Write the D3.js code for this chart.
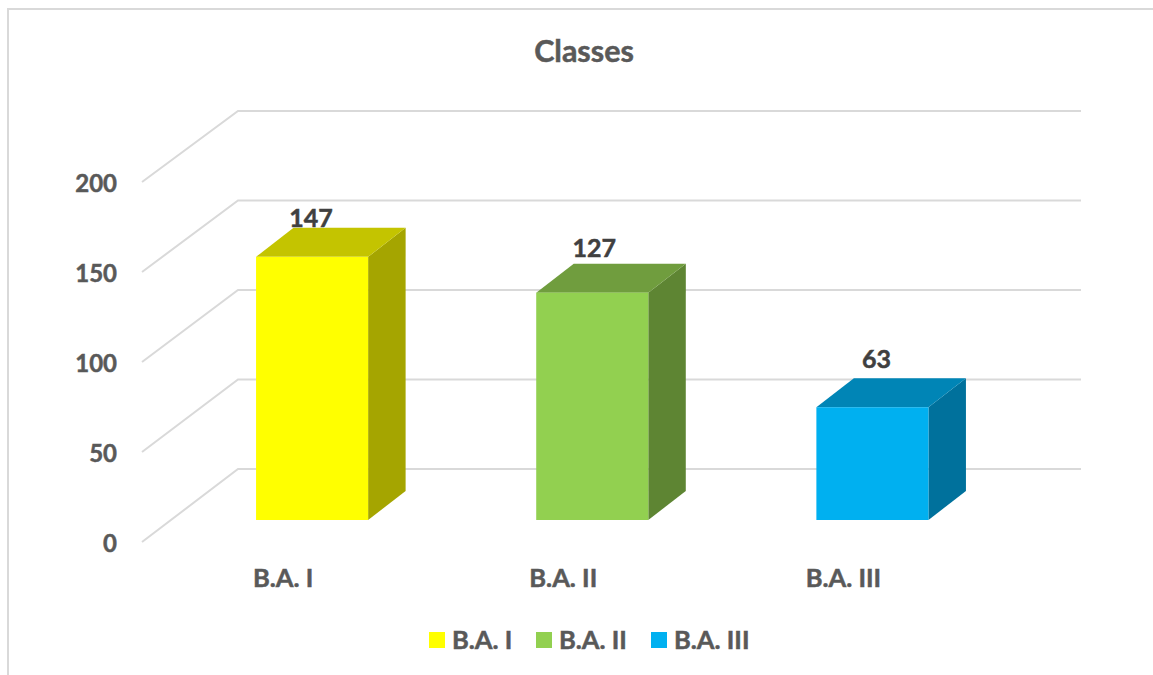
<!DOCTYPE html>
<html>
<head>
<meta charset="utf-8">
<script src="https://cdn.jsdelivr.net/npm/d3@7"></script>
<style>
  html, body { margin: 0; padding: 0; background: #fff; }
  svg { display: block; }
  text { font-family: Lato, "Open Sans", sans-serif; font-weight: 700; stroke-width: 0.5px; }
</style>
</head>
<body>
<svg id="chart" width="1153" height="675"></svg>
<script>
const chartTitle = 'Classes';
const categories = ['B.A. I', 'B.A. II', 'B.A. III'];
const values = [147, 127, 63];
const yTicks = [0, 50, 100, 150, 200];
const frontColors = ['#ffff00', '#92d050', '#00b0f0'];
const topColors = ['#c4c400', '#709d3e', '#0085b6'];
const sideColors = ['#a5a500', '#5e8533', '#00719c'];

const svg = d3.select('#chart');

// chart frame, only left and top edges show in the crop
svg.append('path')
  .attr('d', 'M8,675V9H1153')
  .attr('fill', 'none')
  .attr('stroke', '#d9d9d9')
  .attr('stroke-width', 2);

// floor depth: wall runs from the axis corner to the back plane
const wallDx = 96;
const wallDy = -73;
// bar depth
const depthDx = 37.5;
const depthDy = -29;

const yFront = d3.scaleLinear().domain([0, 200]).range([542, 182]);
const yBack = yFront.copy().range([469, 111]);
const yBar = d3.scaleLinear().domain([0, 200]).range([520, 162]);
const x = d3.scaleBand().domain(categories).range([172, 1012.5]).paddingInner(0.6).paddingOuter(0.3);

// gridlines with wall segment
svg.append('g')
  .selectAll('path')
  .data(yTicks)
  .join('path')
    .attr('d', (d) => `M142,${yFront(d)}L${142 + wallDx},${yBack(d)}H1081`)
    .attr('fill', 'none')
    .attr('stroke', '#d9d9d9')
    .attr('stroke-width', 2);

// y axis labels
svg.append('g')
  .selectAll('text')
  .data(yTicks)
  .join('text')
    .attr('x', 117)
    .attr('y', (d) => yFront(d) + 10)
    .attr('text-anchor', 'end')
    .attr('font-size', 24)
    .attr('fill', '#595959')
    .attr('stroke', '#595959')
    .text((d) => d);

// bars: side, top, front
const bar = svg.append('g')
  .selectAll('g')
  .data(values)
  .join('g');

bar.append('path')
  .attr('d', (d, i) => {
    const x1 = x(categories[i]) + x.bandwidth();
    return `M${x1},${yBar(0)}L${x1 + depthDx},${yBar(0) + depthDy}V${yBar(d) + depthDy}L${x1},${yBar(d)}Z`;
  })
  .attr('fill', (d, i) => sideColors[i]);

bar.append('path')
  .attr('d', (d, i) => {
    const x0 = x(categories[i]);
    const x1 = x0 + x.bandwidth();
    return `M${x0},${yBar(d)}L${x0 + depthDx},${yBar(d) + depthDy}H${x1 + depthDx}L${x1},${yBar(d)}Z`;
  })
  .attr('fill', (d, i) => topColors[i]);

bar.append('rect')
  .attr('x', (d, i) => x(categories[i]))
  .attr('y', (d) => yBar(d))
  .attr('width', x.bandwidth())
  .attr('height', (d) => yBar(0) - yBar(d))
  .attr('fill', (d, i) => frontColors[i]);

// data labels sit a little unevenly above the bars
const labelShift = [[-1, -30], [2, -36], [4, -39]];
bar.append('text')
  .attr('x', (d, i) => x(categories[i]) + x.bandwidth() / 2 + labelShift[i][0])
  .attr('y', (d, i) => yBar(d) + labelShift[i][1])
  .attr('text-anchor', 'middle')
  .attr('font-size', 25)
  .attr('fill', '#404040')
  .attr('stroke', '#404040')
  .text((d) => d);

// category labels
svg.append('g')
  .selectAll('text')
  .data(categories)
  .join('text')
    .attr('x', (d) => x(d) + x.bandwidth() / 2 - 29)
    .attr('y', 587)
    .attr('text-anchor', 'middle')
    .attr('font-size', 25.5)
    .attr('fill', '#595959')
    .attr('stroke', '#595959')
    .text((d) => d);

// title
svg.append('text')
  .attr('x', 584)
  .attr('y', 62)
  .attr('text-anchor', 'middle')
  .attr('font-size', 30.5)
  .attr('fill', '#595959')
  .attr('stroke', '#595959')
  .text(chartTitle);

// legend
const legendX = [429, 536, 651];
const legend = svg.append('g')
  .selectAll('g')
  .data(categories)
  .join('g')
    .attr('transform', (d, i) => `translate(${legendX[i]},632)`);

legend.append('rect')
  .attr('width', 16)
  .attr('height', 16)
  .attr('fill', (d, i) => frontColors[i]);

legend.append('text')
  .attr('x', 23)
  .attr('y', 17)
  .attr('font-size', 25.5)
  .attr('fill', '#595959')
  .attr('stroke', '#595959')
  .text((d) => d);
</script>
</body>
</html>
